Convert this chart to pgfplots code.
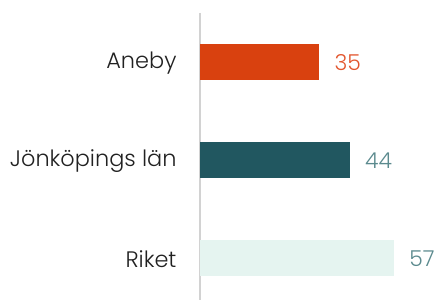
\documentclass[border=0pt]{standalone}
\usepackage{fontspec}
\setmainfont{Poppins}[UprightFont=* Light]
\usepackage{pgfplots}
\pgfplotsset{compat=1.18}
\definecolor{cOrange}{HTML}{D9410F}
\definecolor{cTeal}{HTML}{215760}
\definecolor{cMint}{HTML}{E5F4F0}
\definecolor{lOrange}{HTML}{E2562E}
\definecolor{lTeal}{HTML}{5B8A8E}
\definecolor{axgray}{HTML}{D2D2D2}
\begin{document}
\begin{tikzpicture}[x=1bp,y=1bp]
\begin{axis}[
  at={(200bp,0bp)}, anchor=south west,
  scale only axis, width=237bp, height=287bp,
  xmin=0, xmax=69.7,
  ymin=-0.5, ymax=2.43, y dir=reverse,
  xbar, bar width=0.367, bar shift=0pt,
  axis x line=none,
  axis y line*=left,
  y axis line style={draw=axgray, line width=1.8bp, -},
  ytick={0,1,2},
  yticklabels={Aneby, Jönköpings län, Riket},
  yticklabel style={font=\fontsize{22.5}{25}\selectfont, color=black!87, xshift=-20bp, yshift=-1.5bp},
  major tick length=0pt,
  /pgf/number format/assume math mode=true,
  nodes near coords,
  every node near coord/.append style={font=\fontsize{22}{25}\selectfont, anchor=west, xshift=12bp, yshift=-1bp},
  clip=false,
]
\addplot[fill=cOrange, draw=none, every node near coord/.append style={color=lOrange}] coordinates {(35,0)};
\addplot[fill=cTeal, draw=none, every node near coord/.append style={color=lTeal}] coordinates {(44,1)};
\addplot[fill=cMint, draw=none, every node near coord/.append style={color=lTeal}] coordinates {(57,2)};
\end{axis}
\pgfresetboundingbox
\useasboundingbox (0,0) rectangle (437bp,300bp);
\end{tikzpicture}
\end{document}
